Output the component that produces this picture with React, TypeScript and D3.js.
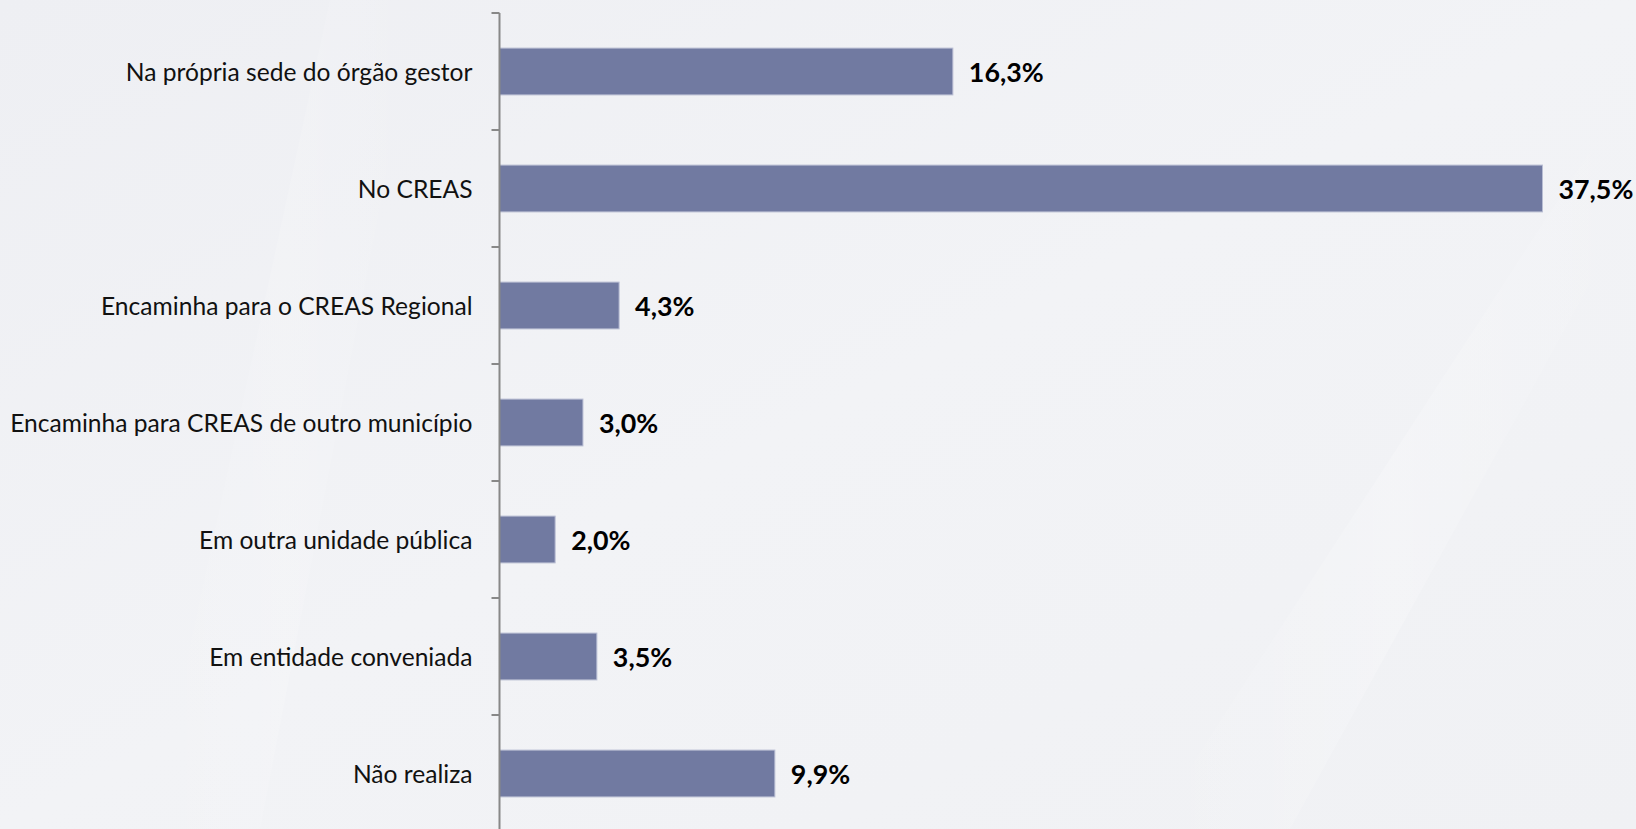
import React from "react";
import * as d3 from "d3";

const categories: string[] = [
  "Na própria sede do órgão gestor",
  "No CREAS",
  "Encaminha para o CREAS Regional",
  "Encaminha para CREAS de outro município",
  "Em outra unidade pública",
  "Em entidade conveniada",
  "Não realiza",
];
const values: number[] = [16.3, 37.5, 4.3, 3.0, 2.0, 3.5, 9.9];
const valueLabels: string[] = ["16,3%", "37,5%", "4,3%", "3,0%", "2,0%", "3,5%", "9,9%"];

const W = 1636;
const H = 829;

export default function App() {
  const x = d3.scaleLinear().domain([0, 37.5]).range([499.5, 1542.5]);
  const y = d3
    .scaleBand<string>()
    .domain(categories)
    .range([13, 832])
    .paddingInner(0.6)
    .paddingOuter(0.3);
  const step = y.step();
  const boundaries = d3.range(categories.length + 1).map((i) => 13 + i * step);
  const axisX = x(0);
  const font = "Lato, 'Open Sans', sans-serif";

  return (
    <svg
      width={W}
      height={H}
      style={{ position: "absolute", left: 0, top: 0, display: "block" }}
    >
      <defs>
        <linearGradient id="bg" x1="0" y1="0" x2="1" y2="1">
          <stop offset="0%" stopColor="#eeeff3" />
          <stop offset="50%" stopColor="#f2f3f6" />
          <stop offset="100%" stopColor="#f0f1f4" />
        </linearGradient>
        <linearGradient id="streak" x1="0" y1="0" x2="1" y2="0">
          <stop offset="0%" stopColor="#ffffff" stopOpacity="0" />
          <stop offset="50%" stopColor="#ffffff" stopOpacity="0.35" />
          <stop offset="100%" stopColor="#ffffff" stopOpacity="0" />
        </linearGradient>
      </defs>
      <rect x={0} y={0} width={W} height={H} fill="url(#bg)" />
      <polygon points="1150,829 1290,829 1636,200 1636,80" fill="url(#streak)" opacity={0.6} />
      <polygon points="150,829 260,829 420,0 330,0" fill="url(#streak)" opacity={0.4} />

      {/* bars */}
      {categories.map((c, i) => (
        <rect
          key={c}
          x={axisX}
          y={y(c)!}
          width={x(values[i]) - axisX}
          height={y.bandwidth()}
          fill="#717aa1"
          stroke="#b8bdd3"
          strokeWidth={1}
        />
      ))}

      {/* axis */}
      <line x1={axisX} x2={axisX} y1={boundaries[0]} y2={H} stroke="#888888" strokeWidth={2} />
      {boundaries.map((b, i) => (
        <line key={i} x1={axisX - 8} x2={axisX} y1={b} y2={b} stroke="#888888" strokeWidth={2} />
      ))}

      {/* category labels */}
      {categories.map((c) => (
        <text
          key={c}
          x={axisX - 27}
          y={y(c)! + y.bandwidth() / 2}
          textAnchor="end"
          dominantBaseline="central"
          fontFamily={font}
          fontSize={24.6}
          fill="#111"
        >
          {c}
        </text>
      ))}

      {/* value labels */}
      {categories.map((c, i) => (
        <text
          key={c}
          x={x(values[i]) + 16}
          y={y(c)! + y.bandwidth() / 2}
          dominantBaseline="central"
          fontFamily={font}
          fontWeight="bold"
          fontSize={26.8}
          fill="#000"
        >
          {valueLabels[i]}
        </text>
      ))}
    </svg>
  );
}
